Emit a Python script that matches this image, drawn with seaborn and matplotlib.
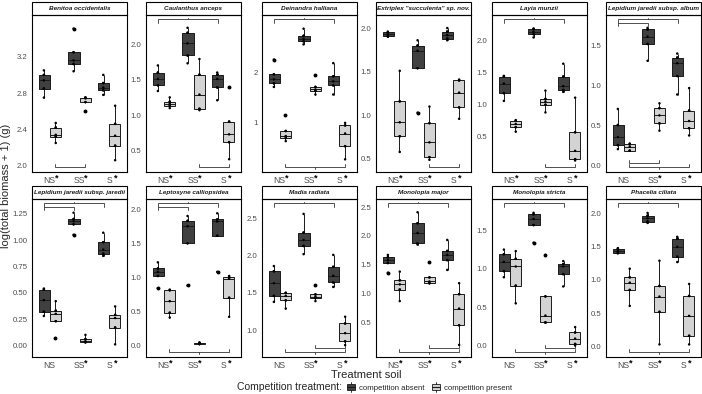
import matplotlib
matplotlib.use("Agg")
import matplotlib.pyplot as plt
import matplotlib.transforms as mtransforms
from matplotlib.patches import Rectangle, Patch
from matplotlib.lines import Line2D
from matplotlib.legend_handler import HandlerBase
import seaborn as sns
import pandas as pd

# ---------------- data ----------------
species = ["Benitoa occidentalis", "Caulanthus anceps", "Deinandra halliana",
           'Extriplex "succulenta" sp. nov.', "Layia munzii", "Lepidium jaredii subsp. album",
           "Lepidium jaredii subsp. jaredii", "Leptosyne calliopsidea", "Madia radiata",
           "Monolopia major", "Monolopia stricta", "Phacelia ciliata"]
soils = ["NS", "SS", "S"]
treatments = ["competition absent", "competition present"]

# groups in order: NS-absent, NS-present, SS-absent, SS-present, S-absent, S-present
benitoa = [[2.75, 2.85, 2.85, 2.94, 3.00, 3.00, 3.05],
           [2.25, 2.32, 2.32, 2.34, 2.42, 2.42, 2.47],
           [3.04, 3.12, 3.12, 3.16, 3.25, 3.25, 3.51],
           [2.60, 2.70, 2.70, 2.74, 2.75, 2.75, 2.75],
           [2.78, 2.83, 2.83, 2.86, 2.91, 2.91, 3.00],
           [2.06, 2.22, 2.22, 2.33, 2.46, 2.46, 2.66]]
caulanthus = [[1.34, 1.42, 1.42, 1.51, 1.60, 1.60, 1.70],
              [1.10, 1.13, 1.13, 1.16, 1.19, 1.19, 1.25],
              [1.73, 1.84, 1.84, 2.01, 2.16, 2.16, 2.23],
              [1.07, 1.09, 1.09, 1.29, 1.57, 1.57, 1.79],
              [1.21, 1.39, 1.39, 1.51, 1.57, 1.57, 1.60],
              [0.38, 0.62, 0.62, 0.73, 0.91, 0.91, 1.39]]
deinandra = [[1.71, 1.78, 1.78, 1.86, 1.96, 1.96, 2.25],
             [0.64, 0.70, 0.70, 0.74, 0.84, 0.84, 1.15],
             [2.55, 2.61, 2.61, 2.66, 2.72, 2.72, 2.86],
             [1.56, 1.63, 1.63, 1.66, 1.71, 1.71, 1.94],
             [1.56, 1.74, 1.74, 1.82, 1.92, 1.92, 2.18],
             [0.28, 0.54, 0.54, 0.79, 0.95, 0.95, 1.00]]
extriplex = [[1.90, 1.91, 1.91, 1.93, 1.95, 1.95, 1.96],
             [0.58, 0.76, 0.76, 0.92, 1.16, 1.16, 1.51],
             [1.03, 1.54, 1.54, 1.74, 1.80, 1.80, 1.86],
             [0.49, 0.52, 0.52, 0.69, 0.91, 0.91, 1.10],
             [1.86, 1.88, 1.88, 1.92, 1.96, 1.96, 2.00],
             [0.96, 1.09, 1.09, 1.26, 1.40, 1.40, 1.41]]
layia = [[1.06, 1.18, 1.18, 1.33, 1.44, 1.44, 1.45],
         [0.58, 0.65, 0.65, 0.70, 0.75, 0.75, 0.76],
         [2.05, 2.10, 2.10, 2.14, 2.18, 2.18, 2.19],
         [0.88, 1.00, 1.00, 1.05, 1.09, 1.09, 1.22],
         [1.20, 1.23, 1.23, 1.29, 1.44, 1.44, 1.64],
         [0.13, 0.15, 0.15, 0.28, 0.57, 0.57, 1.11]]
lep_album = [[0.21, 0.26, 0.26, 0.36, 0.51, 0.51, 0.71],
             [0.19, 0.19, 0.19, 0.24, 0.27, 0.27, 0.28],
             [1.31, 1.52, 1.52, 1.61, 1.70, 1.70, 1.72],
             [0.44, 0.53, 0.53, 0.63, 0.72, 0.72, 0.78],
             [0.89, 1.12, 1.12, 1.28, 1.35, 1.35, 1.40],
             [0.38, 0.47, 0.47, 0.56, 0.69, 0.69, 0.97]]
lep_jaredii = [[0.28, 0.32, 0.32, 0.43, 0.53, 0.53, 0.54],
               [0.07, 0.23, 0.23, 0.30, 0.33, 0.33, 0.42],
               [1.05, 1.15, 1.15, 1.18, 1.20, 1.20, 1.26],
               [0.03, 0.03, 0.03, 0.04, 0.06, 0.06, 0.10],
               [0.85, 0.87, 0.87, 0.91, 0.98, 0.98, 1.07],
               [0.01, 0.17, 0.17, 0.26, 0.29, 0.29, 0.37]]
leptosyne = [[0.84, 1.02, 1.02, 1.08, 1.13, 1.13, 1.22],
             [0.41, 0.48, 0.48, 0.65, 0.81, 0.81, 0.82],
             [0.88, 1.50, 1.50, 1.75, 1.83, 1.83, 1.90],
             [0.02, 0.02, 0.02, 0.03, 0.04, 0.04, 0.04],
             [1.08, 1.61, 1.61, 1.82, 1.85, 1.85, 1.94],
             [0.42, 0.70, 0.70, 0.98, 1.00, 1.00, 1.02]]
madia = [[1.38, 1.46, 1.46, 1.63, 1.79, 1.79, 1.86],
         [1.29, 1.40, 1.40, 1.46, 1.50, 1.50, 1.50],
         [2.02, 2.13, 2.13, 2.21, 2.31, 2.31, 2.56],
         [1.39, 1.43, 1.43, 1.45, 1.48, 1.48, 1.60],
         [1.58, 1.64, 1.64, 1.73, 1.85, 1.85, 2.01],
         [0.80, 0.85, 0.85, 0.96, 1.09, 1.09, 1.18]]
mono_major = [[1.36, 1.53, 1.53, 1.58, 1.63, 1.63, 1.67],
              [0.87, 1.07, 1.07, 1.16, 1.23, 1.23, 1.38],
              [1.85, 1.87, 1.87, 2.05, 2.22, 2.22, 2.41],
              [1.18, 1.18, 1.18, 1.21, 1.28, 1.28, 1.54],
              [1.41, 1.58, 1.58, 1.67, 1.74, 1.74, 1.93],
              [0.11, 0.45, 0.45, 0.74, 0.99, 0.99, 1.18]]
mono_stricta = [[0.89, 0.97, 0.97, 1.09, 1.19, 1.19, 1.25],
                [0.55, 0.78, 0.78, 1.03, 1.13, 1.13, 1.23],
                [1.34, 1.57, 1.57, 1.65, 1.71, 1.71, 1.73],
                [0.30, 0.30, 0.30, 0.39, 0.64, 0.64, 1.18],
                [0.77, 0.93, 0.93, 1.03, 1.06, 1.06, 1.10],
                [0.00, 0.02, 0.02, 0.09, 0.17, 0.17, 0.24]]
phacelia = [[1.40, 1.41, 1.41, 1.44, 1.47, 1.47, 1.48],
            [0.61, 0.85, 0.85, 0.96, 1.04, 1.04, 1.17],
            [1.86, 1.88, 1.88, 1.93, 1.97, 1.97, 2.01],
            [0.03, 0.52, 0.52, 0.75, 0.91, 0.91, 1.29],
            [1.27, 1.35, 1.35, 1.50, 1.62, 1.62, 1.65],
            [0.03, 0.16, 0.16, 0.46, 0.76, 0.76, 0.94]]
all_values = [benitoa, caulanthus, deinandra, extriplex, layia, lep_album,
              lep_jaredii, leptosyne, madia, mono_major, mono_stricta, phacelia]

# which soil tick labels carry an asterisk
soil_stars = [[1, 1, 1], [1, 1, 1], [1, 1, 1], [1, 1, 1], [1, 1, 1], [0, 1, 1],
              [0, 1, 1], [1, 1, 1], [0, 1, 1], [1, 1, 1], [0, 1, 1], [1, 1, 1]]

# significance brackets: (panel, side, treatment, from soil, to soil, level)
brackets = [(0, "bottom", 1, 0, 1, 0),
            (1, "top", 0, 0, 2, 0), (1, "bottom", 1, 1, 2, 0),
            (2, "top", 0, 0, 2, 0), (2, "bottom", 1, 0, 2, 0),
            (3, "bottom", 1, 1, 2, 0),
            (4, "top", 0, 0, 2, 0), (4, "bottom", 1, 1, 2, 0),
            (5, "top", 0, 0, 2, 0), (5, "top", 0, 0, 1, 1),
            (5, "bottom", 1, 0, 2, 0), (5, "bottom", 1, 0, 1, 1),
            (6, "top", 0, 0, 2, 0), (6, "top", 0, 0, 1, 1),
            (7, "top", 0, 0, 2, 0), (7, "top", 0, 0, 1, 1), (7, "bottom", 1, 0, 2, 0),
            (8, "top", 0, 0, 2, 0), (8, "bottom", 1, 0, 2, 0), (8, "bottom", 1, 1, 2, 1),
            (9, "top", 0, 0, 2, 0), (9, "bottom", 1, 0, 2, 0), (9, "bottom", 1, 1, 2, 1),
            (10, "top", 0, 0, 2, 0), (10, "bottom", 1, 0, 2, 0), (10, "bottom", 1, 1, 2, 1),
            (11, "top", 0, 0, 2, 0), (11, "bottom", 1, 0, 2, 0)]

ylims = [(1.93, 3.66), (0.20, 2.41), (0.03, 3.13), (0.35, 2.15), (-0.05, 2.40), (-0.075, 1.88),
         (-0.11, 1.39), (-0.17, 2.15), (0.64, 2.76), (-0.10, 2.64), (-0.15, 1.91), (-0.16, 2.22)]
yticks = [[2.0, 2.4, 2.8, 3.2], [0.5, 1.0, 1.5, 2.0], [1, 2], [0.5, 1.0, 1.5, 2.0],
          [0.5, 1.0, 1.5, 2.0], [0.0, 0.5, 1.0, 1.5], [0.0, 0.25, 0.5, 0.75, 1.0, 1.25],
          [0.0, 0.5, 1.0, 1.5, 2.0], [1.0, 1.5, 2.0, 2.5], [0.5, 1.0, 1.5, 2.0, 2.5],
          [0.0, 0.5, 1.0, 1.5], [0.0, 0.5, 1.0, 1.5, 2.0]]
ytick_decimals = [1, 1, 0, 1, 1, 1, 2, 1, 1, 1, 1, 1]

rows = []
for sp, groups in zip(species, all_values):
    for gi, vals in enumerate(groups):
        for v in vals:
            rows.append({"species": sp, "soil": soils[gi // 2],
                         "treatment": treatments[gi % 2], "value": v})
df = pd.DataFrame(rows)

# ---------------- style ----------------
sns.set_style("white")
plt.rcParams["font.family"] = ["Liberation Sans", "DejaVu Sans"]

DARK = "#404040"
LIGHT = "#d3d3d3"
LINE = "#1a1a1a"
palette = {treatments[0]: DARK, treatments[1]: LIGHT}

fig = plt.figure(figsize=(7.02, 3.94), dpi=100)
W, H = 702.0, 394.0
lefts = [32, 146, 262, 376, 492, 606]
row_tb = [(15, 172), (199, 357)]
pw = 95
strip_h = 13

for i, sp in enumerate(species):
    r, c = divmod(i, 6)
    top, bot = row_tb[r]
    ax = fig.add_axes([lefts[c] / W, 1 - bot / H, pw / W, (bot - top) / H])
    sub = df[df["species"] == sp]
    sns.boxplot(data=sub, x="soil", y="value", hue="treatment", order=soils,
                hue_order=treatments, palette=palette, width=0.75, gap=0,
                linewidth=0.7, linecolor=LINE, saturation=1, fliersize=1.8,
                flierprops={"marker": "o", "markerfacecolor": "black",
                            "markeredgecolor": "black"},
                showcaps=False, legend=False, ax=ax)
    sns.stripplot(data=sub, x="soil", y="value", hue="treatment", order=soils,
                  hue_order=treatments, dodge=True, jitter=False,
                  palette={treatments[0]: "black", treatments[1]: "black"},
                  size=1.8, linewidth=0, legend=False, ax=ax, zorder=5)
    ax.set_xlim(-0.6, 2.6)
    ax.set_ylim(*ylims[i])
    ax.set_yticks(yticks[i])
    ax.set_yticklabels([f"{t:.{ytick_decimals[i]}f}" for t in yticks[i]])
    ax.set_xlabel("")
    ax.set_ylabel("")
    ax.tick_params(axis="both", length=2, width=0.5, color="#333333",
                   labelsize=5.6, labelcolor="#4d4d4d", pad=1.2)
    ax.tick_params(axis="x", labelsize=6.2, pad=1.0)
    for s in ax.spines.values():
        s.set_visible(True)
        s.set_color("black")
        s.set_linewidth(0.8)
    ax.grid(False)

    # strip
    sh = strip_h / (bot - top)
    ax.add_patch(Rectangle((0, 1), 1, sh, transform=ax.transAxes, facecolor="white",
                           edgecolor="black", linewidth=0.8, clip_on=False))
    ax.text(0.5, 1 + sh / 2, sp, transform=ax.transAxes, ha="center", va="center",
            fontsize=4.6, style="italic", fontweight="bold", color="#1a1a1a")

    trans = mtransforms.blended_transform_factory(ax.transData, ax.transAxes)
    # asterisks next to tick labels
    for si, star in enumerate(soil_stars[i]):
        if star:
            ax.text(si + 0.22, -0.012, "*", transform=trans, ha="center", va="top",
                    fontsize=6.5, fontweight="bold", color="black")

    # brackets
    for (pi, side, t, s0, s1, lev) in brackets:
        if pi != i:
            continue
        off = (t - 0.5) * 0.375
        x1, x2 = s0 + off, s1 + off
        if side == "top":
            y = 0.972 - lev * 0.022
            e = y - 0.02
            m = y + 0.012
        else:
            y = 0.03 + lev * 0.028
            e = y + 0.02
            m = y - 0.012
        ax.plot([x1, x1, x2, x2], [e, y, y, e], transform=trans, color="#333333",
                lw=0.6, clip_on=False, solid_joinstyle="miter")
        if s1 - s0 == 2:
            xm = (x1 + x2) / 2
            ax.plot([xm, xm], [y, m], transform=trans, color="#333333", lw=0.6)

fig.text(6.5 / W, 1 - 186 / H, "log(total biomass + 1) (g)", rotation=90,
         ha="center", va="center", fontsize=8)
fig.text(366 / W, 1 - 375 / H, "Treatment soil", ha="center", va="center", fontsize=8)


class BoxHandler(HandlerBase):
    def create_artists(self, legend, orig_handle, xdescent, ydescent, width,
                       height, fontsize, trans):
        x0, y0 = -xdescent, -ydescent
        fc = orig_handle.get_facecolor()
        bx0, bw = x0 + width * 0.12, width * 0.76
        rect = Rectangle((bx0, y0 + height * 0.1), bw, height * 0.8, facecolor=fc,
                         edgecolor=LINE, lw=0.6, transform=trans)
        med = Line2D([bx0, bx0 + bw], [y0 + height * 0.5] * 2, color=LINE, lw=0.8,
                     transform=trans)
        w1 = Line2D([x0 + width / 2] * 2, [y0 - height * 0.2, y0 + height * 0.1],
                    color=LINE, lw=0.6, transform=trans)
        w2 = Line2D([x0 + width / 2] * 2, [y0 + height * 0.9, y0 + height * 1.2],
                    color=LINE, lw=0.6, transform=trans)
        return [rect, med, w1, w2]


handles = [Patch(facecolor=palette[t]) for t in treatments]
fig.text(237 / W, 1 - 387.5 / H, "Competition treatment:", ha="left", va="center",
         fontsize=7.5)
fig.legend(handles, treatments, loc="center left", bbox_to_anchor=(346 / W, 1 - 387.5 / H),
           ncol=2, frameon=False, fontsize=5.6, handler_map={Patch: BoxHandler()},
           handlelength=1.3, handleheight=1.0, handletextpad=0.4, columnspacing=0.8,
           borderpad=0, borderaxespad=0)

fig.savefig("out.png", dpi=100)
